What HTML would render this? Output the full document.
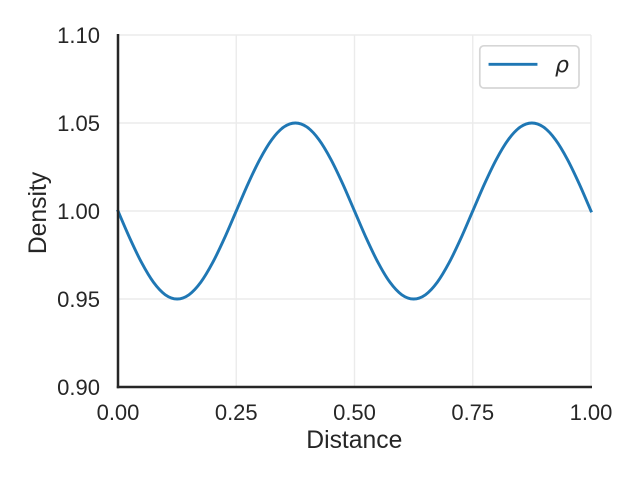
<!DOCTYPE html>
<html>
<head>
<meta charset="utf-8">
<title>Density vs Distance</title>
<style>
html,body{margin:0;padding:0;background:#fff;width:640px;height:480px;overflow:hidden}
svg{display:block}
text{font-family:"Liberation Sans",Arial,sans-serif;fill:#262626}
</style>
</head>
<body>
<svg id="chart" width="640" height="480" viewBox="0 0 640 480" xmlns="http://www.w3.org/2000/svg"></svg>
<script>
const xTicks = [0, 0.25, 0.5, 0.75, 1];
const xTickLabels = ["0.00", "0.25", "0.50", "0.75", "1.00"];
const yTicks = [0.9, 0.95, 1, 1.05, 1.1];
const yTickLabels = ["0.90", "0.95", "1.00", "1.05", "1.10"];
const distance = [0,0.025,0.05,0.075,0.1,0.125,0.15,0.175,0.2,0.225,0.25,0.275,0.3,0.325,0.35,0.375,0.4,0.425,0.45,0.475,0.5,0.525,0.55,0.575,0.6,0.625,0.65,0.675,0.7,0.725,0.75,0.775,0.8,0.825,0.85,0.875,0.9,0.925,0.95,0.975,1];
const density = [1,0.9845,0.9706,0.9595,0.9524,0.95,0.9524,0.9595,0.9706,0.9845,1,1.0155,1.0294,1.0405,1.0476,1.05,1.0476,1.0405,1.0294,1.0155,1,0.9845,0.9706,0.9595,0.9524,0.95,0.9524,0.9595,0.9706,0.9845,1,1.0155,1.0294,1.0405,1.0476,1.05,1.0476,1.0405,1.0294,1.0155,1];

const svg = document.getElementById('chart');
const NS = 'http://www.w3.org/2000/svg';
const L = 118, R = 591, T = 35, B = 387;
function sx(v){ return L + (v - 0) / (1 - 0) * (R - L); }
function sy(v){ return B - (v - 0.9) / (1.1 - 0.9) * (B - T); }
function add(tag, attrs, text){
  const el = document.createElementNS(NS, tag);
  for (const k in attrs) el.setAttribute(k, attrs[k]);
  if (text !== undefined) el.textContent = text;
  svg.appendChild(el);
  return el;
}

xTicks.forEach(function(t, i){
  const g = add('line', {x1:sx(t), x2:sx(t), y1:T, y2:B, stroke:'#ebebeb', 'stroke-width':1.4});
  
  
  const lab = add('text', {x:sx(t), y:420, 'text-anchor':'middle', 'font-size':22}, xTickLabels[i]);
  
  
});
yTicks.forEach(function(t, i){
  const g = add('line', {x1:L, x2:R, y1:sy(t), y2:sy(t), stroke:'#ebebeb', 'stroke-width':1.4});
  
  
  const lab = add('text', {x:100, y:sy(t) + 8, 'text-anchor':'end', 'font-size':22}, yTickLabels[i]);
  
  
});

const pts = distance.map(function(d, i){ return [sx(d), sy(density[i])]; });
let d = 'M' + pts[0][0] + ' ' + pts[0][1];
for (let i = 0; i < pts.length - 1; i++){
  const p0 = pts[Math.max(i - 1, 0)], p1 = pts[i], p2 = pts[i + 1], p3 = pts[Math.min(i + 2, pts.length - 1)];
  d += ' C' + (p1[0] + (p2[0] - p0[0]) / 6) + ' ' + (p1[1] + (p2[1] - p0[1]) / 6) + ' ' +
       (p2[0] - (p3[0] - p1[0]) / 6) + ' ' + (p2[1] - (p3[1] - p1[1]) / 6) + ' ' + p2[0] + ' ' + p2[1];
}
const curve = add('path', {d:d, fill:'none', stroke:'#1f77b4', 'stroke-width':2.9, 'stroke-linecap':'square'});



const ySpine = add('line', {x1:L, x2:L, y1:T - 1, y2:B + 1.2, stroke:'#262626', 'stroke-width':2.5});


const xSpine = add('line', {x1:L - 1.2, x2:R + 1, y1:B, y2:B, stroke:'#262626', 'stroke-width':2.5});



const xTitle = add('text', {x:354.3, y:448, 'text-anchor':'middle', 'font-size':24.7}, 'Distance');


const yTitle = add('text', {x:0, y:0, 'text-anchor':'middle', 'font-size':24.7, transform:'translate(46 213) rotate(-90)'}, 'Density');



const legendBox = add('rect', {x:479.8, y:45.8, width:99.2, height:42.2, rx:4, ry:4, fill:'#fff', stroke:'#d6d6d6', 'stroke-width':1.7});


const legendLine = add('line', {x1:490, x2:536, y1:64.3, y2:64.3, stroke:'#1f77b4', 'stroke-width':2.9, 'stroke-linecap':'square'});


const legendText = add('text', {x:555, y:72, 'font-size':22, 'font-style':'italic', style:'font-family:"DejaVu Sans",sans-serif'}, 'ρ');


</script>
</body>
</html>
